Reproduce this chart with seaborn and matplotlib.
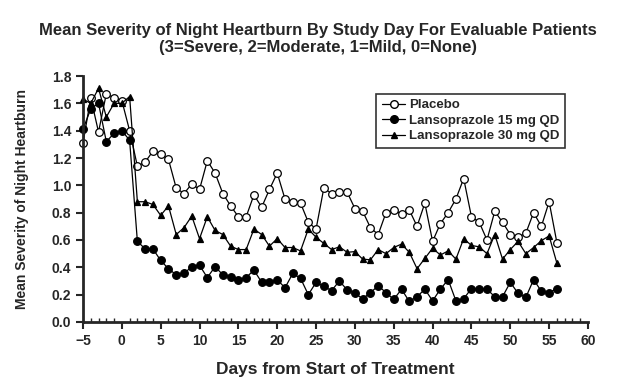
import matplotlib
matplotlib.use('Agg')
import matplotlib.pyplot as plt
from matplotlib.lines import Line2D
from matplotlib.ticker import MultipleLocator, FormatStrFormatter
import pandas as pd
import seaborn as sns

# study days (pre-treatment run-in starts at day -5)
days = list(range(-5, 57))

# mean severity, one value per day
placebo = [1.31, 1.64, 1.39, 1.67, 1.64, 1.62, 1.40,
           1.14, 1.17, 1.25, 1.23, 1.19, 0.98, 0.94,
           1.01, 0.97, 1.18, 1.09, 0.94, 0.85, 0.77,
           0.77, 0.93, 0.84, 0.97, 1.09, 0.90, 0.88,
           0.87, 0.73, 0.68, 0.98, 0.94, 0.95, 0.95,
           0.83, 0.81, 0.69, 0.64, 0.80, 0.82, 0.79,
           0.82, 0.70, 0.87, 0.59, 0.72, 0.80, 0.90,
           1.05, 0.77, 0.73, 0.60, 0.81, 0.73, 0.64,
           0.62, 0.65, 0.80, 0.70, 0.88, 0.58]
lanso_15 = [1.41, 1.56, 1.60, 1.32, 1.38, 1.40, 1.33,
            0.59, 0.535, 0.535, 0.45, 0.39, 0.345, 0.355,
            0.405, 0.415, 0.325, 0.405, 0.345, 0.33, 0.31,
            0.325, 0.38, 0.29, 0.29, 0.31, 0.25, 0.355,
            0.32, 0.20, 0.29, 0.26, 0.23, 0.30, 0.235,
            0.21, 0.17, 0.215, 0.265, 0.215, 0.165, 0.24,
            0.15, 0.185, 0.24, 0.155, 0.24, 0.31, 0.155,
            0.17, 0.245, 0.245, 0.24, 0.185, 0.185, 0.29,
            0.21, 0.18, 0.31, 0.225, 0.215, 0.245]
lanso_30 = [1.63, 1.60, 1.71, 1.50, 1.60, 1.60, 1.65,
            0.88, 0.88, 0.86, 0.78, 0.85, 0.64, 0.69,
            0.775, 0.61, 0.77, 0.67, 0.64, 0.555, 0.53,
            0.53, 0.68, 0.64, 0.555, 0.61, 0.545, 0.545,
            0.52, 0.68, 0.62, 0.575, 0.53, 0.55, 0.51,
            0.515, 0.46, 0.455, 0.53, 0.50, 0.545, 0.57,
            0.51, 0.39, 0.465, 0.54, 0.49, 0.52, 0.46,
            0.61, 0.56, 0.55, 0.50, 0.64, 0.46, 0.53,
            0.59, 0.50, 0.545, 0.595, 0.63, 0.43]

series_names = ['Placebo', 'Lansoprazole 15 mg QD', 'Lansoprazole 30 mg QD']

df = pd.DataFrame({'Day': days, series_names[0]: placebo,
                   series_names[1]: lanso_15, series_names[2]: lanso_30})
df_long = df.melt(id_vars='Day', var_name='Treatment', value_name='Severity')

sns.set_style('ticks')
plt.rcParams['font.family'] = ['Liberation Sans', 'DejaVu Sans']
plt.rcParams['font.weight'] = 'bold'

fig = plt.figure(figsize=(6.36, 3.92), dpi=100)
ax = fig.add_axes([0.1305, 0.1786, 0.794, 0.6275])

# marker look for each treatment
styles = {
    series_names[0]: dict(marker='o', markerfacecolor='white', markersize=5.5),
    series_names[1]: dict(marker='o', markerfacecolor='black', markersize=5.5),
    series_names[2]: dict(marker='^', markerfacecolor='black', markersize=5),
}
for name in series_names:
    sub = df_long[df_long['Treatment'] == name]
    sns.lineplot(data=sub, x='Day', y='Severity', ax=ax, color='black', linewidth=0.9,
                 markeredgecolor='black', markeredgewidth=0.9, legend=False, **styles[name])

ax.set_xlim(-5, 60)
ax.set_ylim(0, 1.8)
ax.xaxis.set_major_locator(MultipleLocator(5))
ax.xaxis.set_minor_locator(MultipleLocator(1))
ax.yaxis.set_major_locator(MultipleLocator(0.2))
ax.yaxis.set_major_formatter(FormatStrFormatter('%.1f'))
ax.tick_params(axis='both', which='major', direction='out', length=5, width=1.5, labelsize=10)
ax.tick_params(axis='x', which='minor', direction='in', length=3, width=1)
for s in ['left', 'bottom']:
    ax.spines[s].set_linewidth(2)
sns.despine(ax=ax)
for ln in ax.lines:
    ln.set_clip_on(False)

ax.set_xlabel('Days from Start of Treatment', fontsize=12.5, fontweight='bold', labelpad=10)
ax.set_ylabel('Mean Severity of Night Heartburn', fontsize=10, fontweight='bold', labelpad=16)

fig.text(0.5, 0.923, 'Mean Severity of Night Heartburn By Study Day For Evaluable Patients',
         ha='center', va='center', fontsize=12, fontweight='bold')
fig.text(0.5, 0.878, '(3=Severe, 2=Moderate, 1=Mild, 0=None)',
         ha='center', va='center', fontsize=12, fontweight='bold')

handles = [Line2D([], [], color='black', linewidth=0.9, markeredgecolor='black', **styles[n])
           for n in series_names]
leg = ax.legend(handles, series_names, loc='upper left', bbox_to_anchor=(0.568, 0.955),
                frameon=True, fancybox=False, edgecolor='black', handlelength=1.8,
                handletextpad=0.3, borderpad=0.4, labelspacing=0.25,
                prop={'size': 9.5, 'weight': 'bold'})
leg.get_frame().set_linewidth(1.2)

fig.savefig('out.png', dpi=100)
